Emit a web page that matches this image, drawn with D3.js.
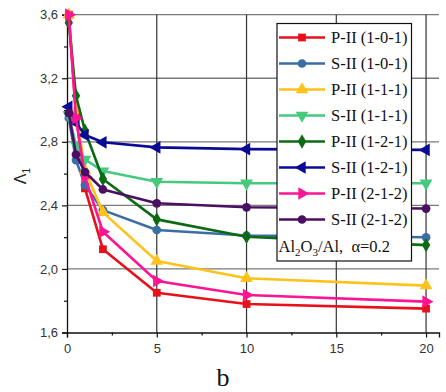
<!DOCTYPE html>
<html>
<head>
<meta charset="utf-8">
<script src="https://cdn.jsdelivr.net/npm/d3@7"></script>
<style>
  html, body { margin: 0; padding: 0; background: #fff; }
  svg { display: block; }
</style>
</head>
<body>
<svg id="chart" width="446" height="392"></svg>
<script>
// Thickness parameter values (x) and eigenvalue Λ1 for each mode
const xValues = [0.1, 0.5, 1, 2, 5, 10, 20];

const seriesNames = [
  "P-II (1-0-1)", "S-II (1-0-1)", "P-II (1-1-1)", "S-II (1-1-1)",
  "P-II (1-2-1)", "S-II (1-2-1)", "P-II (2-1-2)", "S-II (2-1-2)"
];

const p101 = [3.60, 2.98, 2.507, 2.124, 1.85, 1.779, 1.75];
const s101 = [2.95, 2.685, 2.528, 2.37, 2.245, 2.21, 2.199];
const p111 = [3.60, 3.00, 2.62, 2.356, 2.05, 1.941, 1.895];
const s111 = [2.97, 2.78, 2.69, 2.616, 2.549, 2.539, 2.539];
const p121 = [3.55, 3.09, 2.87, 2.566, 2.312, 2.203, 2.15];
const s121 = [3.02, 2.92, 2.843, 2.797, 2.765, 2.754, 2.749];
const p212 = [3.60, 2.95, 2.58, 2.234, 1.924, 1.836, 1.794];
const s212 = [2.98, 2.72, 2.61, 2.50, 2.413, 2.388, 2.38];

const seriesValues = [p101, s101, p111, s111, p121, s121, p212, s212];

const xTicks = [0, 5, 10, 15, 20];
const yTicks = [1.6, 2.0, 2.4, 2.8, 3.2, 3.6];
const yTickLabels = ["1,6", "2,0", "2,4", "2,8", "3,2", "3,6"];
const xMinorTicks = [2.5, 7.5, 12.5, 17.5];
const yMinorTicks = [1.8, 2.2, 2.6, 3.0, 3.4];

// Styling per series
const colors = ["#e8101a", "#3a6ea5", "#ffc21a", "#45c97c", "#0b6b12", "#0a0a96", "#ff1493", "#4a0f62"];
const shapes = [
  { type: d3.symbolSquare, rot: 0, size: 60 },
  { type: d3.symbolCircle, rot: 0, size: 60 },
  { type: d3.symbolTriangle, rot: 0, size: 70 },
  { type: d3.symbolTriangle, rot: 180, size: 70 },
  { type: d3.symbolDiamond, rot: 0, size: 60 },
  { type: d3.symbolTriangle, rot: -90, size: 70 },
  { type: d3.symbolTriangle, rot: 90, size: 70 },
  { type: d3.symbolCircle, rot: 0, size: 60 }
];

const svg = d3.select("#chart");

const x = d3.scaleLinear().domain([0, 20.72]).range([67, 439]);
const y = d3.scaleLinear().domain([1.6, 3.6]).range([332.5, 14.7]);

// Grid lines
const grid = svg.append("g");
grid.selectAll("line.h").data(yTicks.slice(1)).join("line")
  .attr("x1", x(0)).attr("x2", x.range()[1])
  .attr("y1", d => y(d)).attr("y2", d => y(d))
  .attr("stroke", "#7a7a7a").attr("stroke-width", 1.3);
grid.selectAll("line.v").data(xTicks.slice(1)).join("line")
  .attr("x1", d => x(d)).attr("x2", d => x(d))
  .attr("y1", y(3.6)).attr("y2", y(1.6))
  .attr("stroke", "#333").attr("stroke-width", 1.2);

// Axes
const xAxis = d3.axisBottom(x).tickValues(xTicks).tickSize(5).tickPadding(6).tickFormat(d3.format("d"));
const yAxis = d3.axisLeft(y).tickValues(yTicks).tickSize(5).tickPadding(4)
  .tickFormat((d, i) => yTickLabels[i]);

const gx = svg.append("g").attr("transform", `translate(0,${y(1.6)})`).call(xAxis);
const gy = svg.append("g").attr("transform", `translate(${x(0)},0)`).call(yAxis);

svg.append("g").attr("transform", `translate(0,${y(1.6)})`)
  .call(d3.axisBottom(x).tickValues(xMinorTicks).tickSize(3).tickFormat(""))
  .select(".domain").remove();
svg.append("g").attr("transform", `translate(${x(0)},0)`)
  .call(d3.axisLeft(y).tickValues(yMinorTicks).tickSize(3).tickFormat(""))
  .select(".domain").remove();

svg.selectAll(".domain").attr("stroke", "#111").attr("stroke-width", 1.3);
svg.selectAll(".tick line").attr("stroke", "#111").attr("stroke-width", 1.2);
[gx, gy].forEach(g => g.selectAll("text")
  .attr("font-family", "'Liberation Sans', Arial, sans-serif")
  .attr("font-size", 13).attr("fill", "#333"));

// Axis titles
svg.append("text")
  .attr("transform", "translate(26,176) rotate(-90)")
  .attr("text-anchor", "middle")
  .attr("font-family", "'Liberation Sans', Arial, sans-serif")
  .attr("font-size", 16).attr("fill", "#222")
  .call(t => {
    t.append("tspan").text("Λ");
    t.append("tspan").attr("font-size", 10).attr("dy", 4).text("1");
  });

svg.append("text")
  .attr("x", 223).attr("y", 386)
  .attr("text-anchor", "middle")
  .attr("font-family", "'Liberation Serif', 'Times New Roman', serif")
  .attr("font-size", 26).attr("fill", "#111")
  .text("b");

// Series lines and markers
const line = d3.line().x(d => x(d[0])).y(d => y(d[1]));
const symbolPath = i => d3.symbol().type(shapes[i].type).size(shapes[i].size)();

seriesValues.forEach((vals, i) => {
  const pts = xValues.map((xv, k) => [xv, vals[k]]);
  const g = svg.append("g");
  g.append("path").datum(pts)
    .attr("d", line)
    .attr("fill", "none")
    .attr("stroke", colors[i])
    .attr("stroke-width", 2.6)
    .attr("stroke-linejoin", "round");
  g.selectAll("path.m").data(pts).join("path")
    .attr("d", symbolPath(i))
    .attr("transform", d => `translate(${x(d[0])},${y(d[1])}) rotate(${shapes[i].rot})`)
    .attr("fill", colors[i]);
});

// Legend
const lg = svg.append("g");
lg.append("rect")
  .attr("x", 277).attr("y", 23.5).attr("width", 134.5).attr("height", 237.5)
  .attr("fill", "#fff").attr("stroke", "#111").attr("stroke-width", 1.2);

seriesNames.forEach((name, i) => {
  const cy = 37.5 + i * 26;
  lg.append("line")
    .attr("x1", 279).attr("x2", 325).attr("y1", cy).attr("y2", cy)
    .attr("stroke", colors[i]).attr("stroke-width", 2.6);
  lg.append("path")
    .attr("d", symbolPath(i))
    .attr("transform", `translate(302,${cy}) rotate(${shapes[i].rot})`)
    .attr("fill", colors[i]);
  lg.append("text")
    .attr("x", 331).attr("y", cy + 5.5)
    .attr("font-family", "'Liberation Serif', 'Times New Roman', serif")
    .attr("font-size", 16.5).attr("fill", "#111")
    .text(name);
});

lg.append("text")
  .attr("x", 278.5).attr("y", 251.5)
  .attr("font-family", "'Liberation Serif', 'Times New Roman', serif")
  .attr("font-size", 16.5).attr("fill", "#111")
  .call(t => {
    t.append("tspan").text("Al");
    t.append("tspan").attr("font-size", 11).attr("dy", 4).text("2");
    t.append("tspan").attr("dy", -4).text("O");
    t.append("tspan").attr("font-size", 11).attr("dy", 4).text("3");
    t.append("tspan").attr("dy", -4).text("/Al,\u00a0\u00a0α=0.2");
  });
</script>
</body>
</html>
